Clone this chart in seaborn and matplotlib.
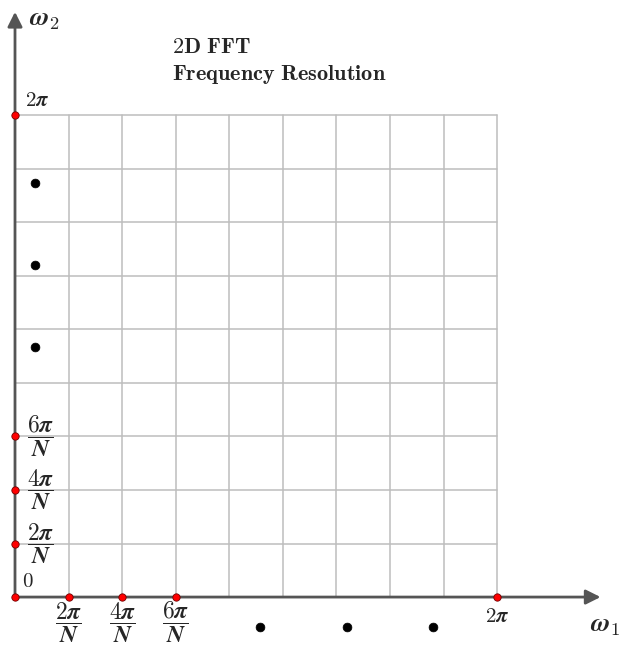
import numpy as np
import pandas as pd
import matplotlib
matplotlib.use("Agg")
import matplotlib.pyplot as plt
import seaborn as sns

# grid / ticks (in units of 2pi/N)
grid_pos = list(range(10))
tick_pos = [0, 1, 2, 3, 9]
x_labels = [r"$\dfrac{\mathbf{2}\boldsymbol{\pi}}{\boldsymbol{N}}$", r"$\dfrac{\mathbf{4}\boldsymbol{\pi}}{\boldsymbol{N}}$",
            r"$\dfrac{\mathbf{6}\boldsymbol{\pi}}{\boldsymbol{N}}$", r"$\mathbf{2}\boldsymbol{\pi}$"]
y_labels = [r"$\dfrac{\mathbf{2}\boldsymbol{\pi}}{\boldsymbol{N}}$", r"$\dfrac{\mathbf{4}\boldsymbol{\pi}}{\boldsymbol{N}}$",
            r"$\dfrac{\mathbf{6}\boldsymbol{\pi}}{\boldsymbol{N}}$", r"$\mathbf{2}\boldsymbol{\pi}$"]

# ellipsis dots
dots_x_h = [4.57, 6.20, 7.80]
dots_y_h = [-0.56, -0.56, -0.56]
dots_x_v = [0.37, 0.37, 0.37]
dots_y_v = [7.73, 6.20, 4.67]

sns.set_style("white")
plt.rcParams["mathtext.fontset"] = "cm"

fig = plt.figure(figsize=(6.21, 6.49), dpi=100)
ax = fig.add_axes([0, 0, 1, 1])
ax.set_xlim(-0.28, 11.31)
ax.set_ylim(-0.97, 11.15)
ax.axis("off")

# grid
for g in grid_pos[1:]:
    ax.plot([g, g], [0, 9], color="#bdbdbd", lw=1.1, zorder=1)
    ax.plot([0, 9], [g, g], color="#bdbdbd", lw=1.1, zorder=1)

# axes with arrows
ax.annotate("", xy=(10.98, 0), xytext=(-0.05, 0),
            arrowprops=dict(arrowstyle="-|>", mutation_scale=22, lw=2, color="#555555"), zorder=2)
ax.annotate("", xy=(0, 10.98), xytext=(0, -0.05),
            arrowprops=dict(arrowstyle="-|>", mutation_scale=22, lw=2, color="#555555"), zorder=2)

# red tick points
ticks = pd.DataFrame({"x": tick_pos + [0] * 4, "y": [0] * 5 + tick_pos[1:]})
sns.scatterplot(data=ticks, x="x", y="y", color="red", edgecolor="#700000",
                linewidth=0.6, s=28, zorder=5, ax=ax, legend=False)

# ellipsis points
dots = pd.DataFrame({"x": dots_x_h + dots_x_v, "y": dots_y_h + dots_y_v})
sns.scatterplot(data=dots, x="x", y="y", color="black", edgecolor="black",
                s=40, zorder=5, ax=ax, legend=False)

# tick labels
for p, lab in zip(tick_pos[1:], x_labels):
    if p == 9:
        ax.text(p, -0.36, lab, ha="center", va="center", fontsize=15)
    else:
        ax.text(p, -0.48, lab, ha="center", va="center", fontsize=17)
for p, lab in zip(tick_pos[1:], y_labels):
    if p == 9:
        ax.text(0.42, 9.28, lab, ha="center", va="center", fontsize=15)
    else:
        ax.text(0.47, p, lab, ha="center", va="center", fontsize=17)
ax.text(0.23, 0.3, r"$\mathbf{0}$", ha="center", va="center", fontsize=15)

ax.text(11.02, -0.52, r"$\boldsymbol{\omega}_{\mathbf{1}}$", ha="center", va="center", fontsize=19)
ax.text(0.55, 10.8, r"$\boldsymbol{\omega}_{\mathbf{2}}$", ha="center", va="center", fontsize=19)

ax.text(2.93, 10.27, r"$\mathbf{2D\ FFT}$", ha="left", va="center", fontsize=16)
ax.text(2.93, 9.75, r"$\mathbf{Frequency\ Resolution}$", ha="left", va="center", fontsize=16)

fig.savefig("out.png", dpi=100)
